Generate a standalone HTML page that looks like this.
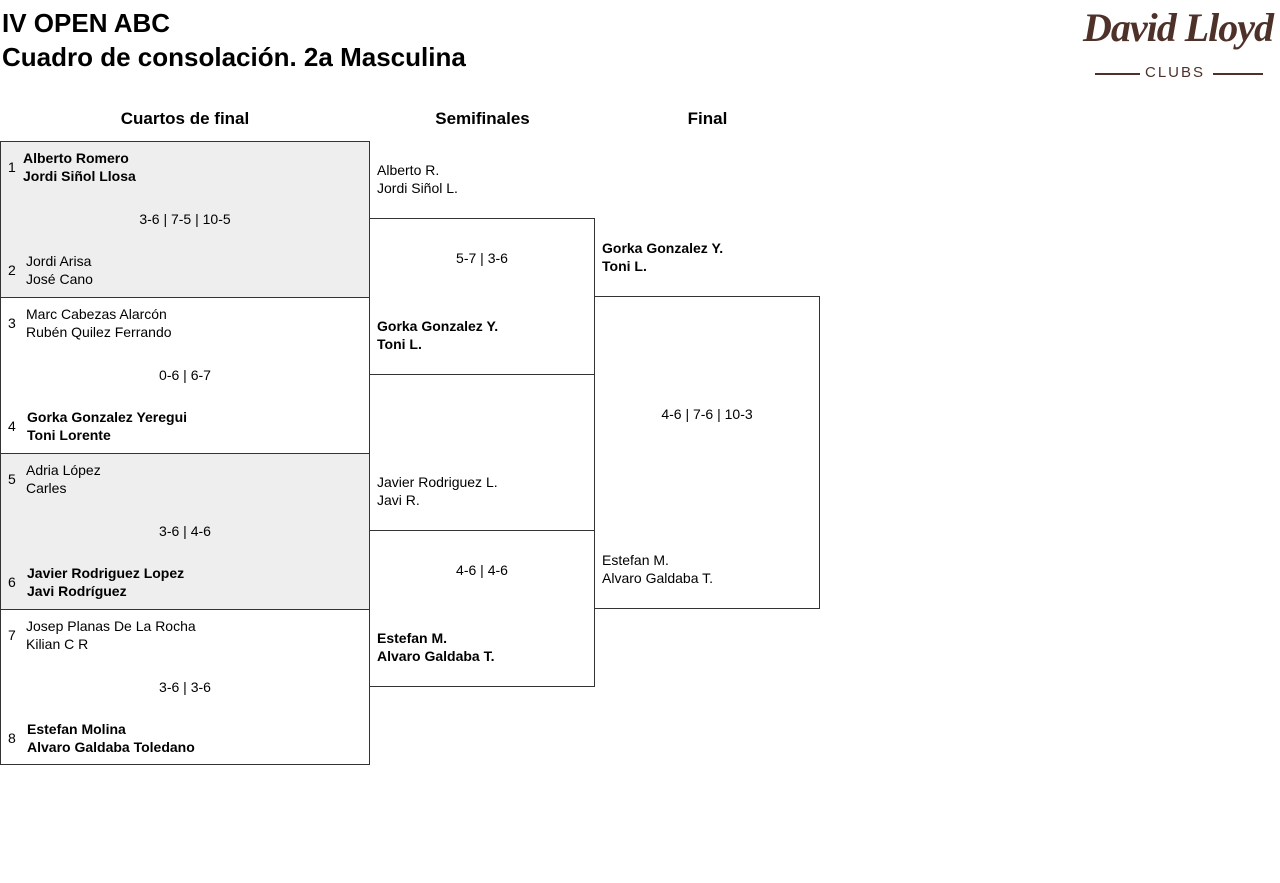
<!DOCTYPE html>
<html><head><meta charset="utf-8"><style>
body{margin:0;width:1280px;height:883px;background:#fff;font-family:"Liberation Sans",sans-serif;color:#000;position:relative;overflow:hidden}
div{position:absolute}
.t{font-size:14px;line-height:18px;white-space:nowrap}
.b{font-weight:bold}
.box{border:1px solid #333;box-sizing:border-box}
.h{font-size:17px;text-align:center;font-weight:bold;}
</style></head><body>
<div style="left:2px;top:8px;font-size:26px;line-height:31px;font-weight:bold;">IV OPEN ABC</div>
<div style="left:2px;top:41px;font-size:26px;line-height:33px;font-weight:bold;">Cuadro de consolación. 2a Masculina</div>
<div style="left:1076px;top:0px;width:204px;text-align:center;white-space:nowrap;font-family:'Liberation Serif',serif;font-style:italic;font-weight:bold;font-size:40px;line-height:56px;color:#4e3229;letter-spacing:-1px">David Lloyd</div>
<div style="left:1095px;top:73px;width:45px;border-top:2px solid #4e3229"></div>
<div style="left:1213px;top:73px;width:50px;border-top:2px solid #4e3229"></div>
<div style="left:1145px;top:64px;width:60px;text-align:center;font-size:15px;line-height:18px;color:#4e3229;letter-spacing:2px;white-space:nowrap">CLUBS</div>

<div class="h" style="left:0;width:370px;top:109px">Cuartos de final</div>
<div class="h" style="left:370px;width:225px;top:109px">Semifinales</div>
<div class="h" style="left:595px;width:225px;top:109px">Final</div>

<div class="box" style="left:0;top:141px;width:370px;height:157px;background:#eee"></div>
<div class="box" style="left:0;top:297px;width:370px;height:157px"></div>
<div class="box" style="left:0;top:453px;width:370px;height:157px;background:#eee"></div>
<div class="box" style="left:0;top:609px;width:370px;height:156px"></div>
<div class="box" style="left:369px;top:218px;width:226px;height:157px"></div>
<div class="box" style="left:369px;top:530px;width:226px;height:157px"></div>
<div class="box" style="left:594px;top:296px;width:226px;height:313px"></div>

<div class="t" style="left:8px;top:158px">1</div><div class="t b" style="left:23px;top:149px">Alberto Romero<br>Jordi Siñol Llosa</div>
<div class="t" style="left:0;width:370px;text-align:center;top:210px">3-6 | 7-5 | 10-5</div>
<div class="t" style="left:8px;top:261px">2</div><div class="t" style="left:26px;top:252px">Jordi Arisa<br>José Cano</div>

<div class="t" style="left:8px;top:314px">3</div><div class="t" style="left:26px;top:305px">Marc Cabezas Alarcón<br>Rubén Quilez Ferrando</div>
<div class="t" style="left:0;width:370px;text-align:center;top:366px">0-6 | 6-7</div>
<div class="t" style="left:8px;top:417px">4</div><div class="t b" style="left:27px;top:408px">Gorka Gonzalez Yeregui<br>Toni Lorente</div>

<div class="t" style="left:8px;top:470px">5</div><div class="t" style="left:26px;top:461px">Adria López<br>Carles</div>
<div class="t" style="left:0;width:370px;text-align:center;top:522px">3-6 | 4-6</div>
<div class="t" style="left:8px;top:573px">6</div><div class="t b" style="left:27px;top:564px">Javier Rodriguez Lopez<br>Javi Rodríguez</div>

<div class="t" style="left:8px;top:626px">7</div><div class="t" style="left:26px;top:617px">Josep Planas De La Rocha<br>Kilian C R</div>
<div class="t" style="left:0;width:370px;text-align:center;top:678px">3-6 | 3-6</div>
<div class="t" style="left:8px;top:729px">8</div><div class="t b" style="left:27px;top:720px">Estefan Molina<br>Alvaro Galdaba Toledano</div>

<div class="t" style="left:377px;top:161px">Alberto R.<br>Jordi Siñol L.</div>
<div class="t" style="left:369px;width:226px;text-align:center;top:249px">5-7 | 3-6</div>
<div class="t b" style="left:377px;top:317px">Gorka Gonzalez Y.<br>Toni L.</div>
<div class="t" style="left:377px;top:473px">Javier Rodriguez L.<br>Javi R.</div>
<div class="t" style="left:369px;width:226px;text-align:center;top:561px">4-6 | 4-6</div>
<div class="t b" style="left:377px;top:629px">Estefan M.<br>Alvaro Galdaba T.</div>

<div class="t b" style="left:602px;top:239px">Gorka Gonzalez Y.<br>Toni L.</div>
<div class="t" style="left:594px;width:226px;text-align:center;top:405px">4-6 | 7-6 | 10-3</div>
<div class="t" style="left:602px;top:551px">Estefan M.<br>Alvaro Galdaba T.</div>
</body></html>
